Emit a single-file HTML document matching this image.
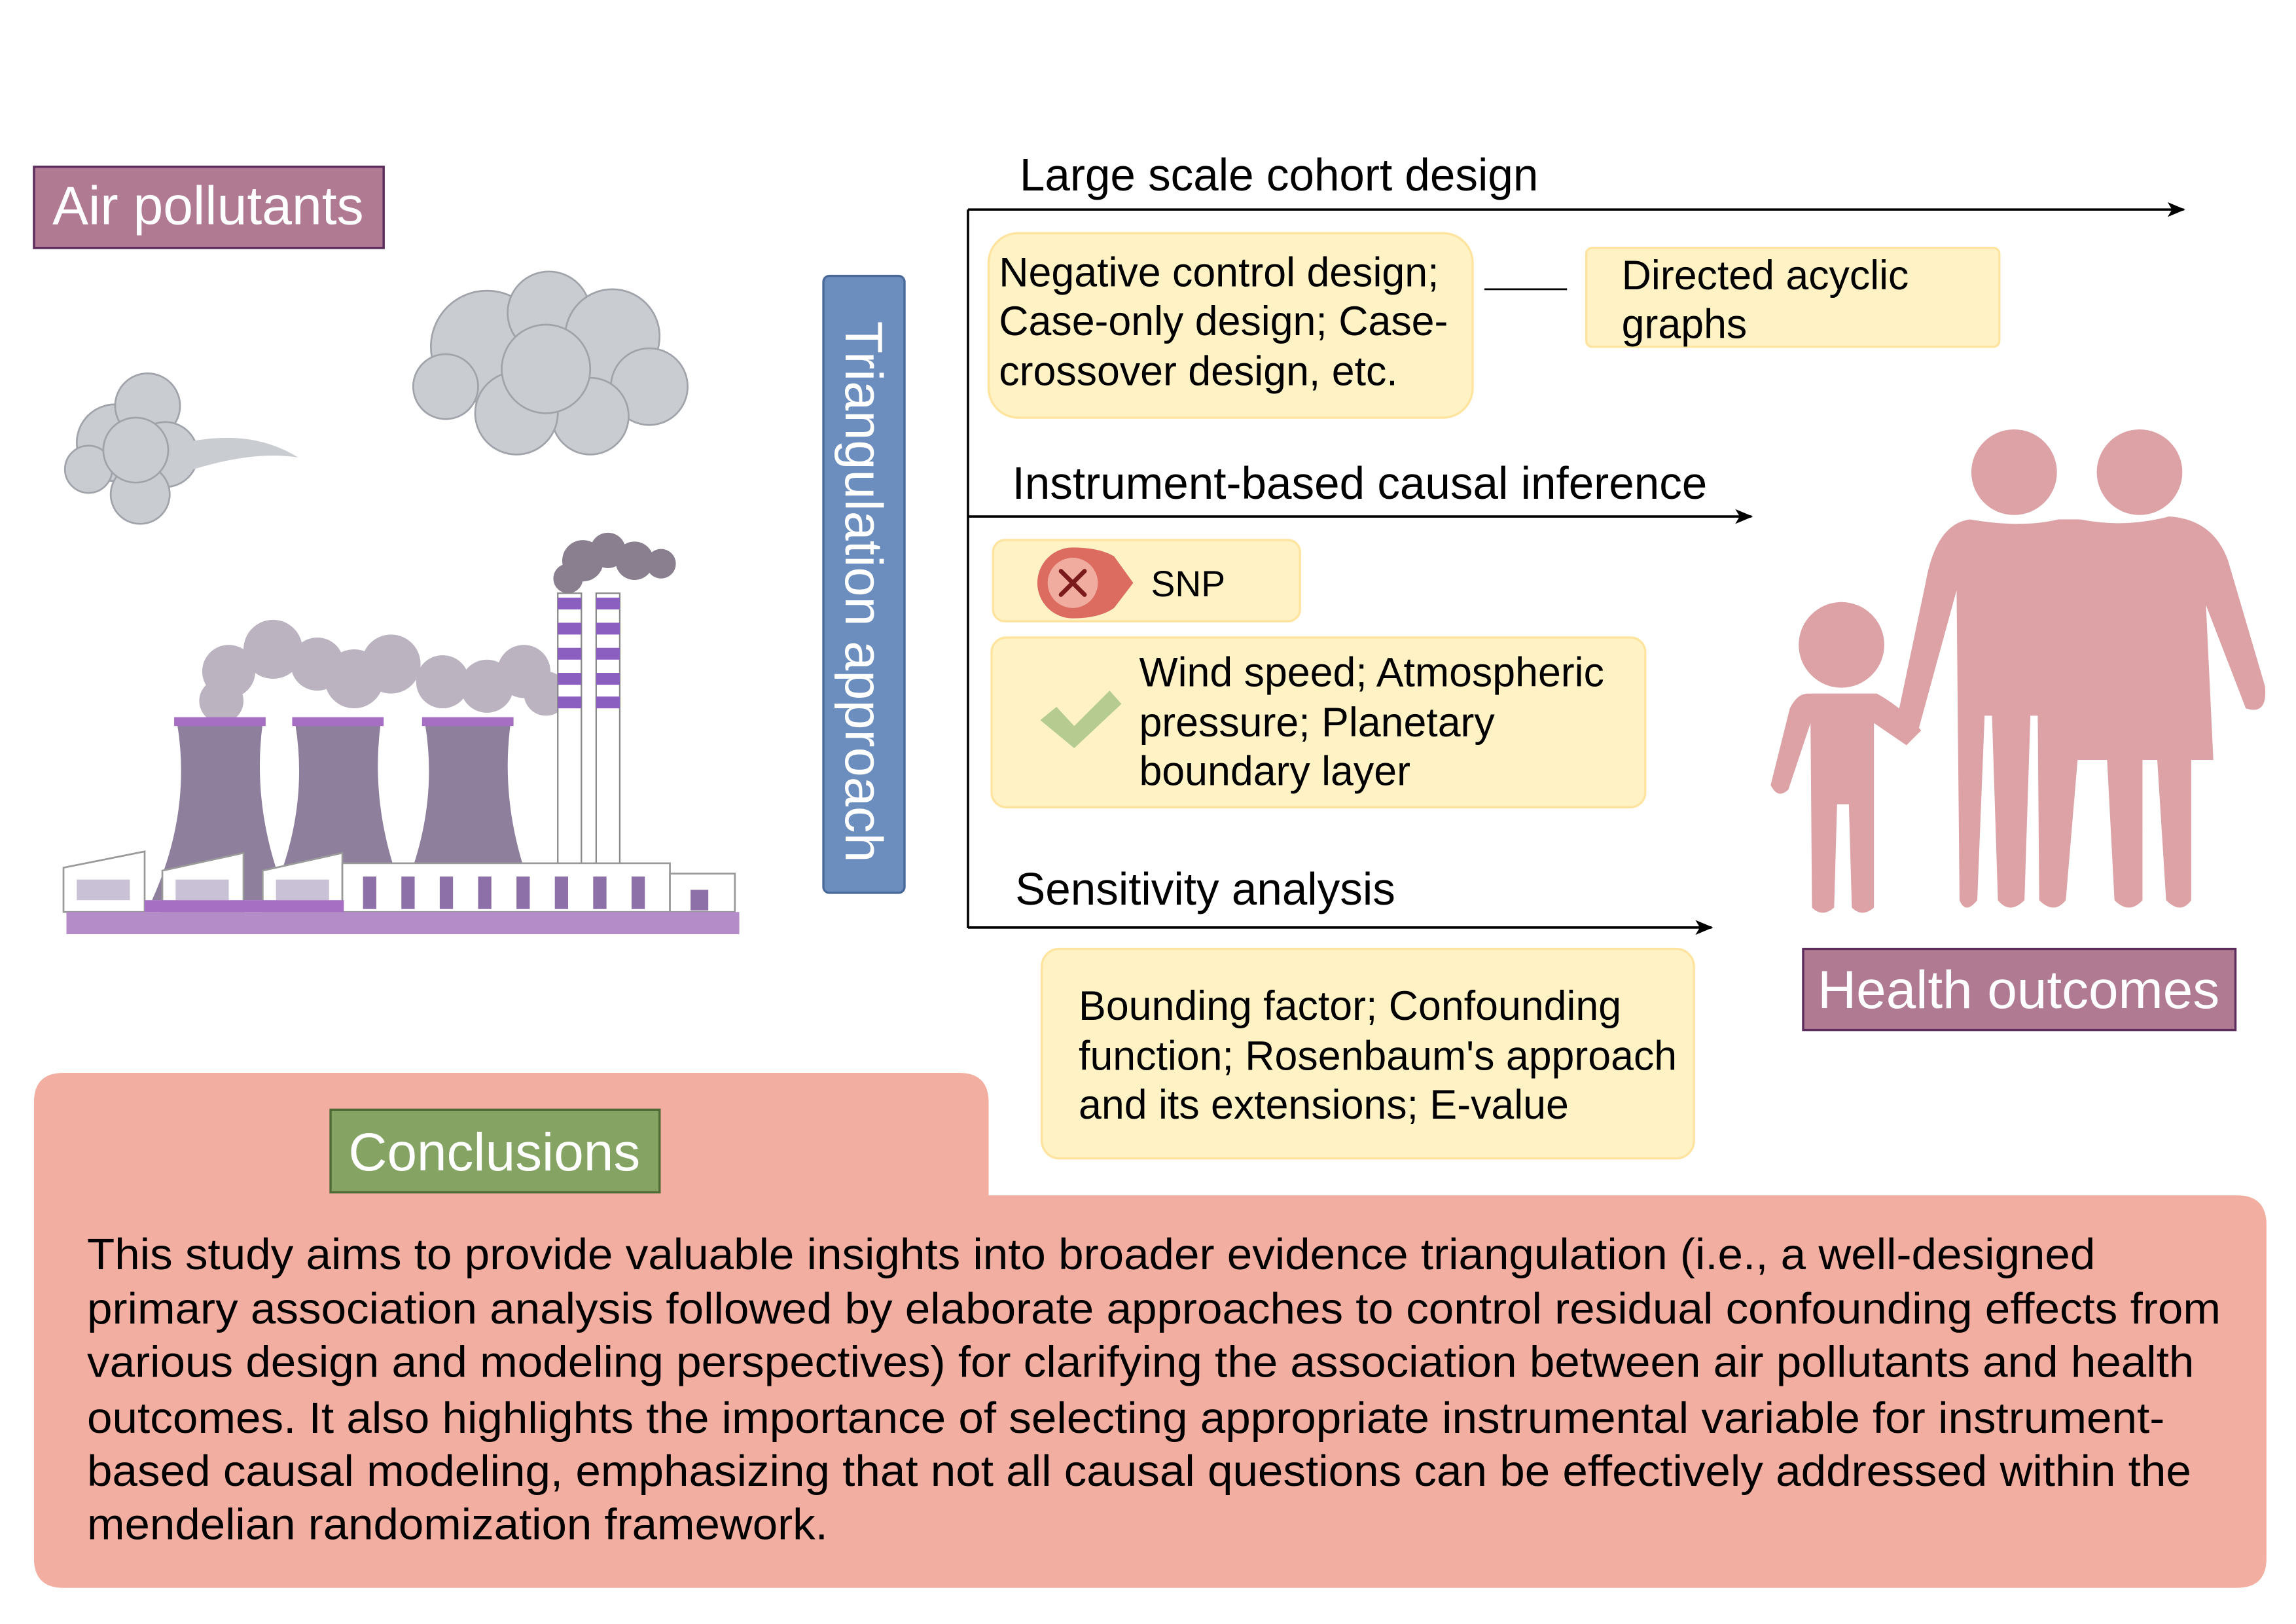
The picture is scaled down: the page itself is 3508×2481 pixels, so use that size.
<!DOCTYPE html>
<html><head><meta charset="utf-8"><style>html,body{margin:0;padding:0;background:#fff}svg{display:block}</style></head>
<body>
<svg xmlns="http://www.w3.org/2000/svg" width="3508" height="2481" viewBox="0 0 1556 1100.5" font-family="Liberation Sans, sans-serif">
<defs><marker id="ar" markerWidth="12" markerHeight="10" refX="11" refY="5" orient="auto" markerUnits="userSpaceOnUse"><path d="M0,0 L12,5 L0,10 L3,5 Z" fill="#000"/></marker></defs>
<rect width="1556" height="1100.5" fill="#fff"/>

<rect x="23" y="113" width="237" height="55" fill="#b07a93" stroke="#5b2c5c" stroke-width="1.5"/>
<text x="141" y="152" font-size="36.5" fill="#fff" text-anchor="middle">Air pollutants</text>

<g fill="#c9ccd0" stroke="#a0a4aa" stroke-width="1.2">
<circle cx="330" cy="235" r="38"/><circle cx="372" cy="212" r="28"/><circle cx="415" cy="228" r="32"/><circle cx="440" cy="262" r="26"/><circle cx="400" cy="282" r="26"/><circle cx="350" cy="280" r="28"/><circle cx="302" cy="262" r="22"/><circle cx="370" cy="250" r="30"/>
<circle cx="78" cy="300" r="26"/><circle cx="100" cy="275" r="22"/><circle cx="112" cy="308" r="22"/><circle cx="95" cy="335" r="20"/><circle cx="60" cy="318" r="16"/><circle cx="92" cy="305" r="22"/>
</g>
<path d="M125 300 Q170 290 202 310 Q170 305 125 320Z" fill="#c9ccd0"/>
<g fill="#bcb3c0">
<circle cx="155" cy="455" r="18"/><circle cx="185" cy="440" r="20"/><circle cx="215" cy="450" r="18"/><circle cx="240" cy="460" r="20"/><circle cx="265" cy="450" r="20"/><circle cx="300" cy="462" r="18"/><circle cx="330" cy="465" r="18"/><circle cx="355" cy="455" r="18"/><circle cx="150" cy="475" r="15"/><circle cx="370" cy="470" r="15"/>
</g>
<g fill="#8a7f8e"><circle cx="395" cy="380" r="14"/><circle cx="412" cy="373" r="12"/><circle cx="430" cy="380" r="13"/><circle cx="448" cy="382" r="10"/><circle cx="385" cy="392" r="10"/></g>
<g fill="#8e7f9d">
<path d="M120 490 L178 490 Q170 550 195 610 L103 610 Q130 550 120 490Z"/>
<path d="M200 490 L258 490 Q250 550 275 610 L183 610 Q210 550 200 490Z"/>
<path d="M288 490 L346 490 Q338 550 363 610 L271 610 Q298 550 288 490Z"/>
</g>
<g fill="#a66fc4"><rect x="118" y="486" width="62" height="6"/><rect x="198" y="486" width="62" height="6"/><rect x="286" y="486" width="62" height="6"/></g>
<g stroke="#888" stroke-width="1" fill="#fff"><rect x="378" y="402" width="16" height="190"/><rect x="404" y="402" width="16" height="190"/></g>
<g fill="#8b5fc0"><rect x="378" y="405" width="16" height="8"/><rect x="378" y="422" width="16" height="8"/><rect x="378" y="439" width="16" height="8"/><rect x="378" y="456" width="16" height="8"/><rect x="378" y="472" width="16" height="8"/>
<rect x="404" y="405" width="16" height="8"/><rect x="404" y="422" width="16" height="8"/><rect x="404" y="439" width="16" height="8"/><rect x="404" y="456" width="16" height="8"/><rect x="404" y="472" width="16" height="8"/></g>
<g fill="#fff" stroke="#999" stroke-width="1.2">
<path d="M43 588 L98 577 L98 618 L43 618Z"/><path d="M110 590 L165 578 L165 618 L110 618Z"/><path d="M178 590 L232 578 L232 618 L178 618Z"/>
<rect x="232" y="585" width="222" height="33"/><rect x="454" y="592" width="44" height="26"/>
</g>
<g fill="#8e70a8"><rect x="246" y="594" width="9" height="22"/><rect x="272" y="594" width="9" height="22"/><rect x="298" y="594" width="9" height="22"/><rect x="324" y="594" width="9" height="22"/><rect x="350" y="594" width="9" height="22"/><rect x="376" y="594" width="9" height="22"/><rect x="402" y="594" width="9" height="22"/><rect x="428" y="594" width="9" height="22"/><rect x="468" y="603" width="12" height="14"/></g>
<g fill="#c9c2d6"><rect x="52" y="596" width="36" height="14"/><rect x="119" y="596" width="36" height="14"/><rect x="187" y="596" width="36" height="14"/></g>
<rect x="45" y="618" width="456" height="15" fill="#b48cc8"/>
<rect x="98" y="610" width="135" height="8" fill="#a66fc4"/>

<rect x="558" y="187" width="55" height="418" rx="4" fill="#6c8ebf" stroke="#4a6a9a" stroke-width="1.5"/>
<text transform="translate(573,401) rotate(90)" font-size="36" fill="#fff" text-anchor="middle">Triangulation approach</text>

<g stroke="#000" stroke-width="1.6" fill="none">
<line x1="656" y1="142" x2="656" y2="629"/>
<line x1="656" y1="142" x2="1480" y2="142" marker-end="url(#ar)"/>
<line x1="656" y1="350" x2="1187" y2="350" marker-end="url(#ar)"/>
<line x1="656" y1="628.5" x2="1160" y2="628.5" marker-end="url(#ar)"/>
<line x1="1006" y1="196" x2="1062" y2="196" stroke-width="1.2"/>
</g>
<g font-size="30.7" fill="#000">
<text x="691" y="129">Large scale cohort design</text>
<text x="686" y="338">Instrument-based causal inference</text>
<text x="688" y="613">Sensitivity analysis</text>
</g>

<g fill="#fff2c5" stroke="#ffe4a0" stroke-width="1.5">
<rect x="670" y="158" width="328" height="125" rx="20"/>
<rect x="1075" y="168" width="280" height="67" rx="4"/>
<rect x="673" y="366" width="208" height="55" rx="8"/>
<rect x="672" y="432" width="443" height="115" rx="10"/>
<rect x="706" y="643" width="442" height="142" rx="12"/>
</g>
<g font-size="27.8" fill="#000">
<text x="677" y="194">Negative control design;</text>
<text x="677" y="227">Case-only design; Case-</text>
<text x="677" y="261">crossover design, etc.</text>
<text x="1099" y="196">Directed acyclic</text>
<text x="1099" y="229">graphs</text>
<text x="780" y="404" font-size="24.5">SNP</text>
<text x="772" y="465">Wind speed; Atmospheric</text>
<text x="772" y="499">pressure; Planetary</text>
<text x="772" y="532">boundary layer</text>
<text x="731" y="691">Bounding factor; Confounding</text>
<text x="731" y="725">function; Rosenbaum's approach</text>
<text x="731" y="758">and its extensions; E-value</text>
</g>
<path d="M727 371 Q745 371 755 377 L768 395 L755 412 Q745 419 727 419 A24 24 0 0 1 727 371Z" fill="#dc6b60"/>
<circle cx="727" cy="395" r="17" fill="#f1aca0"/>
<g stroke="#7a1a1a" stroke-width="3" stroke-linecap="round"><line x1="719" y1="387" x2="735" y2="403"/><line x1="735" y1="387" x2="719" y2="403"/></g>
<path d="M705 488 L716 479 L728 492 L752 468 L760 477 L728 507Z" fill="#b5cb90"/>

<g fill="#dca2a6">
<circle cx="1365" cy="320" r="29"/><circle cx="1450" cy="320" r="29"/><circle cx="1248" cy="437" r="29"/>
<path d="M1335 352 Q1370 358 1395 352 L1410 352 Q1440 358 1470 350 Q1500 352 1510 380 L1535 465 Q1537 485 1522 480 L1495 410 L1500 515 L1485 515 L1485 610 Q1478 620 1468 610 L1462 515 L1452 515 L1452 610 Q1443 620 1433 610 L1428 515 L1408 515 L1400 610 Q1392 620 1382 610 L1381 485 L1376 485 L1372 610 Q1362 620 1354 610 L1350 485 L1345 485 L1340 610 Q1332 620 1328 610 L1326 400 L1300 495 Q1293 505 1284 495 L1305 395 Q1312 355 1335 352Z"/>
<path d="M1225 470 L1272 470 Q1290 480 1302 495 L1292 505 L1270 490 L1270 615 Q1262 622 1255 615 L1253 545 L1245 545 L1243 615 Q1235 622 1228 615 L1227 490 L1212 535 Q1205 542 1200 532 L1213 480 Q1218 470 1225 470Z"/>
</g>
<rect x="1222" y="643" width="293" height="55" fill="#b07a93" stroke="#5b2c5c" stroke-width="1.5"/>
<text x="1368" y="683" font-size="36.3" fill="#fff" text-anchor="middle">Health outcomes</text>

<path d="M43 727 L650 727 Q670 727 670 747 L670 810 L1516 810 Q1536 810 1536 830 L1536 1056 Q1536 1076 1516 1076 L43 1076 Q23 1076 23 1056 L23 747 Q23 727 43 727Z" fill="#f2aea0"/>
<rect x="224" y="752" width="223" height="56" fill="#85a464" stroke="#4f6b35" stroke-width="1.5"/>
<text x="335" y="793" font-size="36.3" fill="#fff" text-anchor="middle">Conclusions</text>
<g font-size="29.5" fill="#000">
<text x="59" y="860" textLength="1361" lengthAdjust="spacingAndGlyphs">This study aims to provide valuable insights into broader evidence triangulation (i.e., a well-designed</text>
<text x="59" y="897" textLength="1446" lengthAdjust="spacingAndGlyphs">primary association analysis followed by elaborate approaches to control residual confounding effects from</text>
<text x="59" y="933" textLength="1428" lengthAdjust="spacingAndGlyphs">various design and modeling perspectives) for clarifying the association between air pollutants and health</text>
<text x="59" y="971" textLength="1408" lengthAdjust="spacingAndGlyphs">outcomes. It also highlights the importance of selecting appropriate instrumental variable for instrument-</text>
<text x="59" y="1007" textLength="1426" lengthAdjust="spacingAndGlyphs">based causal modeling, emphasizing that not all causal questions can be effectively addressed within the</text>
<text x="59" y="1043" textLength="502" lengthAdjust="spacingAndGlyphs">mendelian randomization framework.</text>
</g>
</svg>
</body></html>
